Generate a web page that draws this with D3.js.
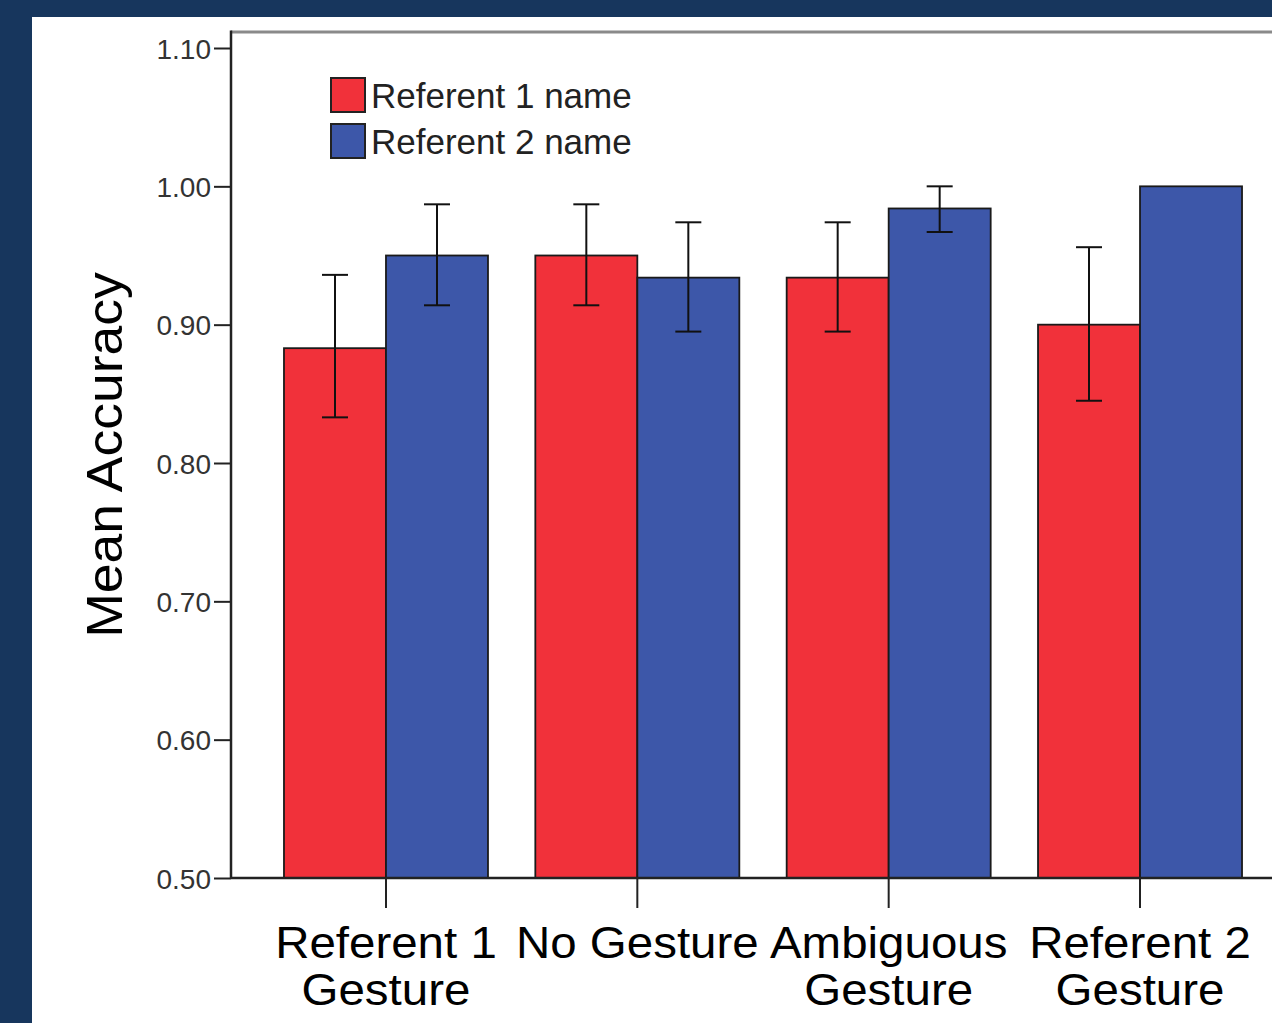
<!DOCTYPE html>
<html><head><meta charset="utf-8">
<script src="https://cdn.jsdelivr.net/npm/d3@7"></script>
<style>html,body{margin:0;padding:0;background:#17365d;overflow:hidden}svg{display:block}</style>
</head><body>
<svg id="chart" width="1272" height="1023"></svg>
<script>
const categories = [["Referent 1","Gesture"],["No Gesture"],["Ambiguous","Gesture"],["Referent 2","Gesture"]];
const categoryKeys = ["Referent 1 Gesture","No Gesture","Ambiguous Gesture","Referent 2 Gesture"];
const seriesNames = ["Referent 1 name","Referent 2 name"];
const ref1Mean = [0.883, 0.950, 0.934, 0.900];
const ref1Low  = [0.833, 0.914, 0.895, 0.845];
const ref1High = [0.936, 0.987, 0.974, 0.956];
const ref2Mean = [0.950, 0.934, 0.984, 1.000];
const ref2Low  = [0.914, 0.895, 0.967, null];
const ref2High = [0.987, 0.974, 1.000, null];
const yTicks = [0.50, 0.60, 0.70, 0.80, 0.90, 1.00, 1.10];
const colors = ["#f1313a", "#3d57a9"];

const svg = d3.select("#chart");
const font = "'Liberation Sans', Arial, sans-serif";

svg.append("rect").attr("x",32).attr("y",17).attr("width",1240).attr("height",1006).attr("fill","#fff");

const y = d3.scaleLinear().domain([0.5, 1.1]).range([878, 48]);
const axisLeft = 231, plotTop = 32, plotBottom = y(0.5);
const x = d3.scaleBand().domain(categoryKeys).range([260.3, 1265.7]).padding(0);
const groupW = 204;
const xs = d3.scaleBand().domain(seriesNames).range([0, groupW]).padding(0);

// top frame
svg.append("line").attr("x1",axisLeft).attr("x2",1272).attr("y1",plotTop).attr("y2",plotTop)
  .attr("stroke","#8a8a8a").attr("stroke-width",3);

const data = [];
categoryKeys.forEach((c,i)=>{
  data.push({c, s:seriesNames[0], v:ref1Mean[i], lo:ref1Low[i], hi:ref1High[i], col:colors[0]});
  data.push({c, s:seriesNames[1], v:ref2Mean[i], lo:ref2Low[i], hi:ref2High[i], col:colors[1]});
});

const gx = d => x(d.c) + x.bandwidth()/2 - groupW/2 + xs(d.s);

svg.append("g").selectAll("rect").data(data).join("rect")
  .attr("x", d => gx(d))
  .attr("y", d => y(d.v))
  .attr("width", xs.bandwidth())
  .attr("height", d => plotBottom - y(d.v))
  .attr("fill", d => d.col)
  .attr("stroke", "#1a1a1a").attr("stroke-width", 1.8);

// error bars
const eb = svg.append("g").attr("stroke","#111").attr("stroke-width",2).attr("fill","none");
data.filter(d => d.lo != null).forEach(d => {
  const cx = gx(d) + xs.bandwidth()/2;
  eb.append("line").attr("x1",cx).attr("x2",cx).attr("y1",y(d.hi)).attr("y2",y(d.lo));
  eb.append("line").attr("x1",cx-13).attr("x2",cx+13).attr("y1",y(d.hi)).attr("y2",y(d.hi));
  eb.append("line").attr("x1",cx-13).attr("x2",cx+13).attr("y1",y(d.lo)).attr("y2",y(d.lo));
});

// y axis
const ya = d3.axisLeft(y).tickValues(yTicks).tickSize(17).tickPadding(3).tickFormat(d3.format(".2f"));
const gy = svg.append("g").attr("transform",`translate(${axisLeft},0)`).call(ya);
gy.select(".domain").remove();
gy.selectAll(".tick line").attr("stroke","#222").attr("stroke-width",2);
gy.selectAll(".tick text").attr("font-family",font).attr("font-size",28).attr("fill","#333").attr("dy","0.36em");
svg.append("line").attr("x1",axisLeft).attr("x2",axisLeft).attr("y1",plotTop-1.5).attr("y2",plotBottom)
  .attr("stroke","#222").attr("stroke-width",2.5);

// x axis
const xa = d3.axisBottom(x).tickSize(30).tickFormat("");
const gxa = svg.append("g").attr("transform",`translate(0,${plotBottom})`).call(xa);
gxa.select(".domain").remove();
gxa.selectAll(".tick line").attr("stroke","#222").attr("stroke-width",2);
svg.append("line").attr("x1",axisLeft).attr("x2",1272).attr("y1",plotBottom).attr("y2",plotBottom)
  .attr("stroke","#222").attr("stroke-width",2.5);

// category labels
const lab = svg.append("g").attr("font-family",font).attr("font-size",45).attr("fill","#000").attr("text-anchor","middle");
categoryKeys.forEach((c,i)=>{
  const cx = x(c)+x.bandwidth()/2;
  const g = lab.append("g").attr("transform",`translate(${cx},0) scale(1.055,1)`);
  const t = g.append("text").attr("x", 0).attr("y", 958);
  categories[i].forEach((line,j)=>{
    t.append("tspan").attr("x", 0).attr("dy", j===0?0:47).text(line);
  });
});

// y title
svg.append("text").attr("transform","translate(122,455) rotate(-90) scale(1.07,1)")
  .attr("text-anchor","middle").attr("font-family",font).attr("font-size",50).attr("fill","#000")
  .text("Mean Accuracy");

// legend
const lg = svg.append("g");
seriesNames.forEach((s,i)=>{
  lg.append("rect").attr("x",331).attr("y",78+i*46).attr("width",34).attr("height",34)
    .attr("fill",colors[i]).attr("stroke","#222").attr("stroke-width",2);
  lg.append("text").attr("x",371).attr("y",108+i*46).attr("font-family",font).attr("font-size",35)
    .attr("fill","#222").text(s);
});
</script>
</body></html>
